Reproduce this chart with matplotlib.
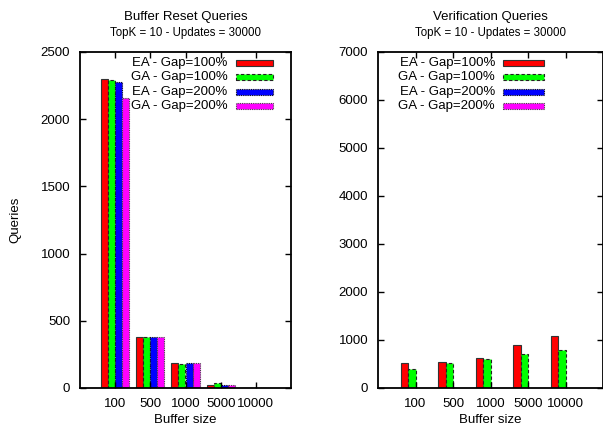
import matplotlib.pyplot as plt
from matplotlib.patches import Rectangle
import numpy as np

plt.rcParams['font.family'] = ['Liberation Sans', 'DejaVu Sans']

buffer_sizes = ['100', '500', '1000', '5000', '10000']

# Buffer reset queries per configuration
reset_ea100 = [2297, 377, 188, 25, 0]
reset_ga100 = [2292, 377, 180, 35, 0]
reset_ea200 = [2277, 377, 188, 25, 0]
reset_ga200 = [2158, 377, 188, 20, 0]

# Verification queries (only the Gap=100% runs have data)
verify_ea100 = [514, 542, 618, 889, 1083]
verify_ga100 = [390, 521, 597, 701, 792]

labels = ['EA - Gap=100%', 'GA - Gap=100%', 'EA - Gap=200%', 'GA - Gap=200%']
styles = [
    dict(facecolor='#ff0000', edgecolor='#333333', linestyle='-'),
    dict(facecolor='#00ff00', edgecolor='#222222', linestyle=(0, (3, 2))),
    dict(facecolor='#0000ff', edgecolor='#111111', linestyle=(0, (1, 1))),
    dict(facecolor='#ff00ff', edgecolor='#444444', linestyle=(0, (1, 1))),
]

fig = plt.figure(figsize=(6.03, 4.3), dpi=100)
ax1 = fig.add_axes([80 / 603, 42 / 430, 211 / 603, 336 / 430])
ax2 = fig.add_axes([378 / 603, 42 / 430, 225 / 603, 336 / 430])

x = np.arange(len(buffer_sizes))
width = 0.2


def draw_bars(ax, series):
    for i, vals in enumerate(series):
        if vals is None:
            continue
        ax.bar(x + (i - 1.5) * width, vals, width, linewidth=0.8, **styles[i])


def style_axes(ax, ymax, yticks, title, key_x):
    ax.set_xlim(-1, 5)
    ax.set_ylim(0, ymax)
    ax.set_xticks(x)
    ax.set_xticklabels(buffer_sizes)
    ax.set_yticks(yticks)
    ax.tick_params(direction='in', top=True, right=True, labelsize=9.5,
                   length=4, width=1, pad=7)
    for s in ax.spines.values():
        s.set_linewidth(1.3)
    ax.set_xlabel('Buffer size', fontsize=9.5, labelpad=3)
    ax.text(0.5, 1.104, title, transform=ax.transAxes,
            ha='center', va='center', fontsize=9.5)
    ax.text(0.5, 1.057, 'TopK = 10 - Updates = 30000', transform=ax.transAxes,
            ha='center', va='center', fontsize=8.3)

    # key in the upper right corner
    for i, lab in enumerate(labels):
        y = 1 - (11 + i * 14.3) / 336
        ax.text(key_x, y, lab, transform=ax.transAxes,
                ha='right', va='center', fontsize=9.5)
        ax.add_patch(Rectangle((key_x + 0.037, y - 0.009), 0.18, 0.018,
                               transform=ax.transAxes, linewidth=0.8,
                               clip_on=False, **styles[i]))


draw_bars(ax1, [reset_ea100, reset_ga100, reset_ea200, reset_ga200])
style_axes(ax1, 2500, range(0, 2501, 500), 'Buffer Reset Queries', 0.70)
ax1.text(-0.305, 0.5, 'Queries', transform=ax1.transAxes, rotation=90,
         ha='center', va='center', fontsize=9.5)

draw_bars(ax2, [verify_ea100, verify_ga100, None, None])
style_axes(ax2, 7000, range(0, 7001, 1000), 'Verification Queries', 0.52)

fig.savefig('out.png', dpi=100)
